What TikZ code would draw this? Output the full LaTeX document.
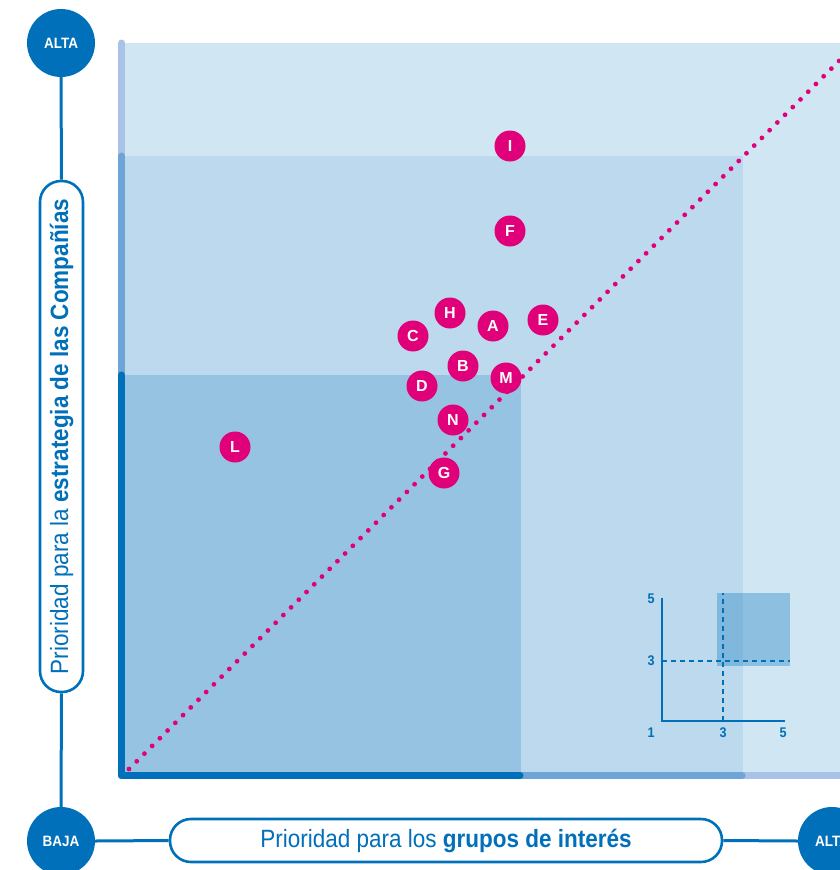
\documentclass[tikz,border=0pt]{standalone}
\usepackage{fontspec}
\setmainfont{Liberation Sans}
\newfontfamily\condf{Liberation Sans}[FakeStretch=0.9]
\definecolor{dblue}{HTML}{0070BA}
\definecolor{mblue}{HTML}{6FA4D7}
\definecolor{lblue}{HTML}{A9C3E8}
\definecolor{bglight}{HTML}{D1E6F3}
\definecolor{bgmid}{HTML}{BDD9ED}
\definecolor{bgdark}{HTML}{97C3E2}
\definecolor{mag}{HTML}{E0007A}
\tikzset{
  item/.style={circle, fill=mag, text=white, font=\bfseries\fontsize{16}{16}\selectfont, minimum size=31pt, inner sep=0pt},
  level/.style={circle, fill=dblue, text=white, font=\condf\bfseries\fontsize{15}{15}\selectfont, minimum size=68pt, inner sep=0pt},
  axlabel/.style={draw=dblue, line width=2.6pt, fill=white, rounded corners=21pt, text=dblue, font=\condf\fontsize{25}{29}\selectfont, inner sep=0pt},
  conn/.style={dblue, line width=3pt},
  axbar/.style={line width=7pt, line cap=round, line join=round},
  tick/.style={text=dblue, font=\condf\bfseries\fontsize{14}{14}\selectfont, inner sep=0pt},
  mini/.style={dblue, line width=2.2pt},
  minidash/.style={dblue, line width=2pt, dash pattern=on 5pt off 4pt}
}
\begin{document}
\begin{tikzpicture}[x=1pt,y=-1pt]
\useasboundingbox (0,0) rectangle (840,870);
% backgrounds
\fill[bglight] (121,43) rectangle (845,776);
\fill[bgmid] (121,156) rectangle (743,776);
\fill[bgdark] (121,375) rectangle (521,776);
% axis bars
\draw[axbar, lblue] (121.5,43) -- (121.5,775.5) -- (850,775.5);
\draw[axbar, mblue] (121.5,156) -- (121.5,775.5) -- (742,775.5);
\draw[axbar, dblue] (121.5,375) -- (121.5,775.5) -- (520,775.5);
% diagonal dotted line
\coordinate (d0) at (129,769);
\coordinate (d1) at (841,59);
\draw[mag, line width=4.8pt, line cap=round, dash pattern=on 0pt off 10.9pt] (d0) -- (d1);
% inset
\fill[dblue, fill opacity=0.32] (717,593) rectangle (790,666);
\coordinate (o) at (662,721);
\coordinate (yt) at (662,598);
\coordinate (xr) at (785,721);
\coordinate (h0) at (662,661);
\coordinate (h1) at (790,661);
\coordinate (v0) at (723,721);
\coordinate (v1) at (723,593);
\draw[minidash] (h0) -- (h1);
\draw[minidash] (v0) -- (v1);
\draw[mini] (yt) -- (o) -- (xr);
\node[tick] (t5y) at (651,599) {5};
\node[tick] (t3y) at (651,661) {3};
\node[tick] (t1) at (651,733) {1};
\node[tick] (t3x) at (723,733) {3};
\node[tick] (t5x) at (783,733) {5};
% items
\node[item] (I) at (510,146) {I};
\node[item] (F) at (510,231) {F};
\node[item] (H) at (450,313) {H};
\node[item] (A) at (493,326) {A};
\node[item] (E) at (543,320) {E};
\node[item] (C) at (413,336) {C};
\node[item] (B) at (463,366) {B};
\node[item] (M) at (506,378) {M};
\node[item] (D) at (422,386) {D};
\node[item] (N) at (453,420) {N};
\node[item] (G) at (444,473) {G};
\node[item] (L) at (235,447) {L};
% frame labels
\node[level] (altaL) at (61,43) {ALTA};
\node[level] (baja) at (61,841) {BAJA};
\node[level] (altaR) at (832,841) {ALTA};
\node[axlabel, rotate=90, minimum width=511pt, minimum height=43pt] (ylab) at (61.5,436.5) {Prioridad para la \textbf{estrategia de las Compañías}};
\node[axlabel, minimum width=552pt, minimum height=43pt] (xlab) at (446,840.5) {Prioridad para los \textbf{grupos de interés}};
\draw[conn] (altaL.south) -- (ylab.east);
\draw[conn] (ylab.west) -- (baja.north);
\draw[conn] (baja.east) -- (xlab.west);
\draw[conn] (xlab.east) -- (altaR.west);
\end{tikzpicture}
\end{document}
